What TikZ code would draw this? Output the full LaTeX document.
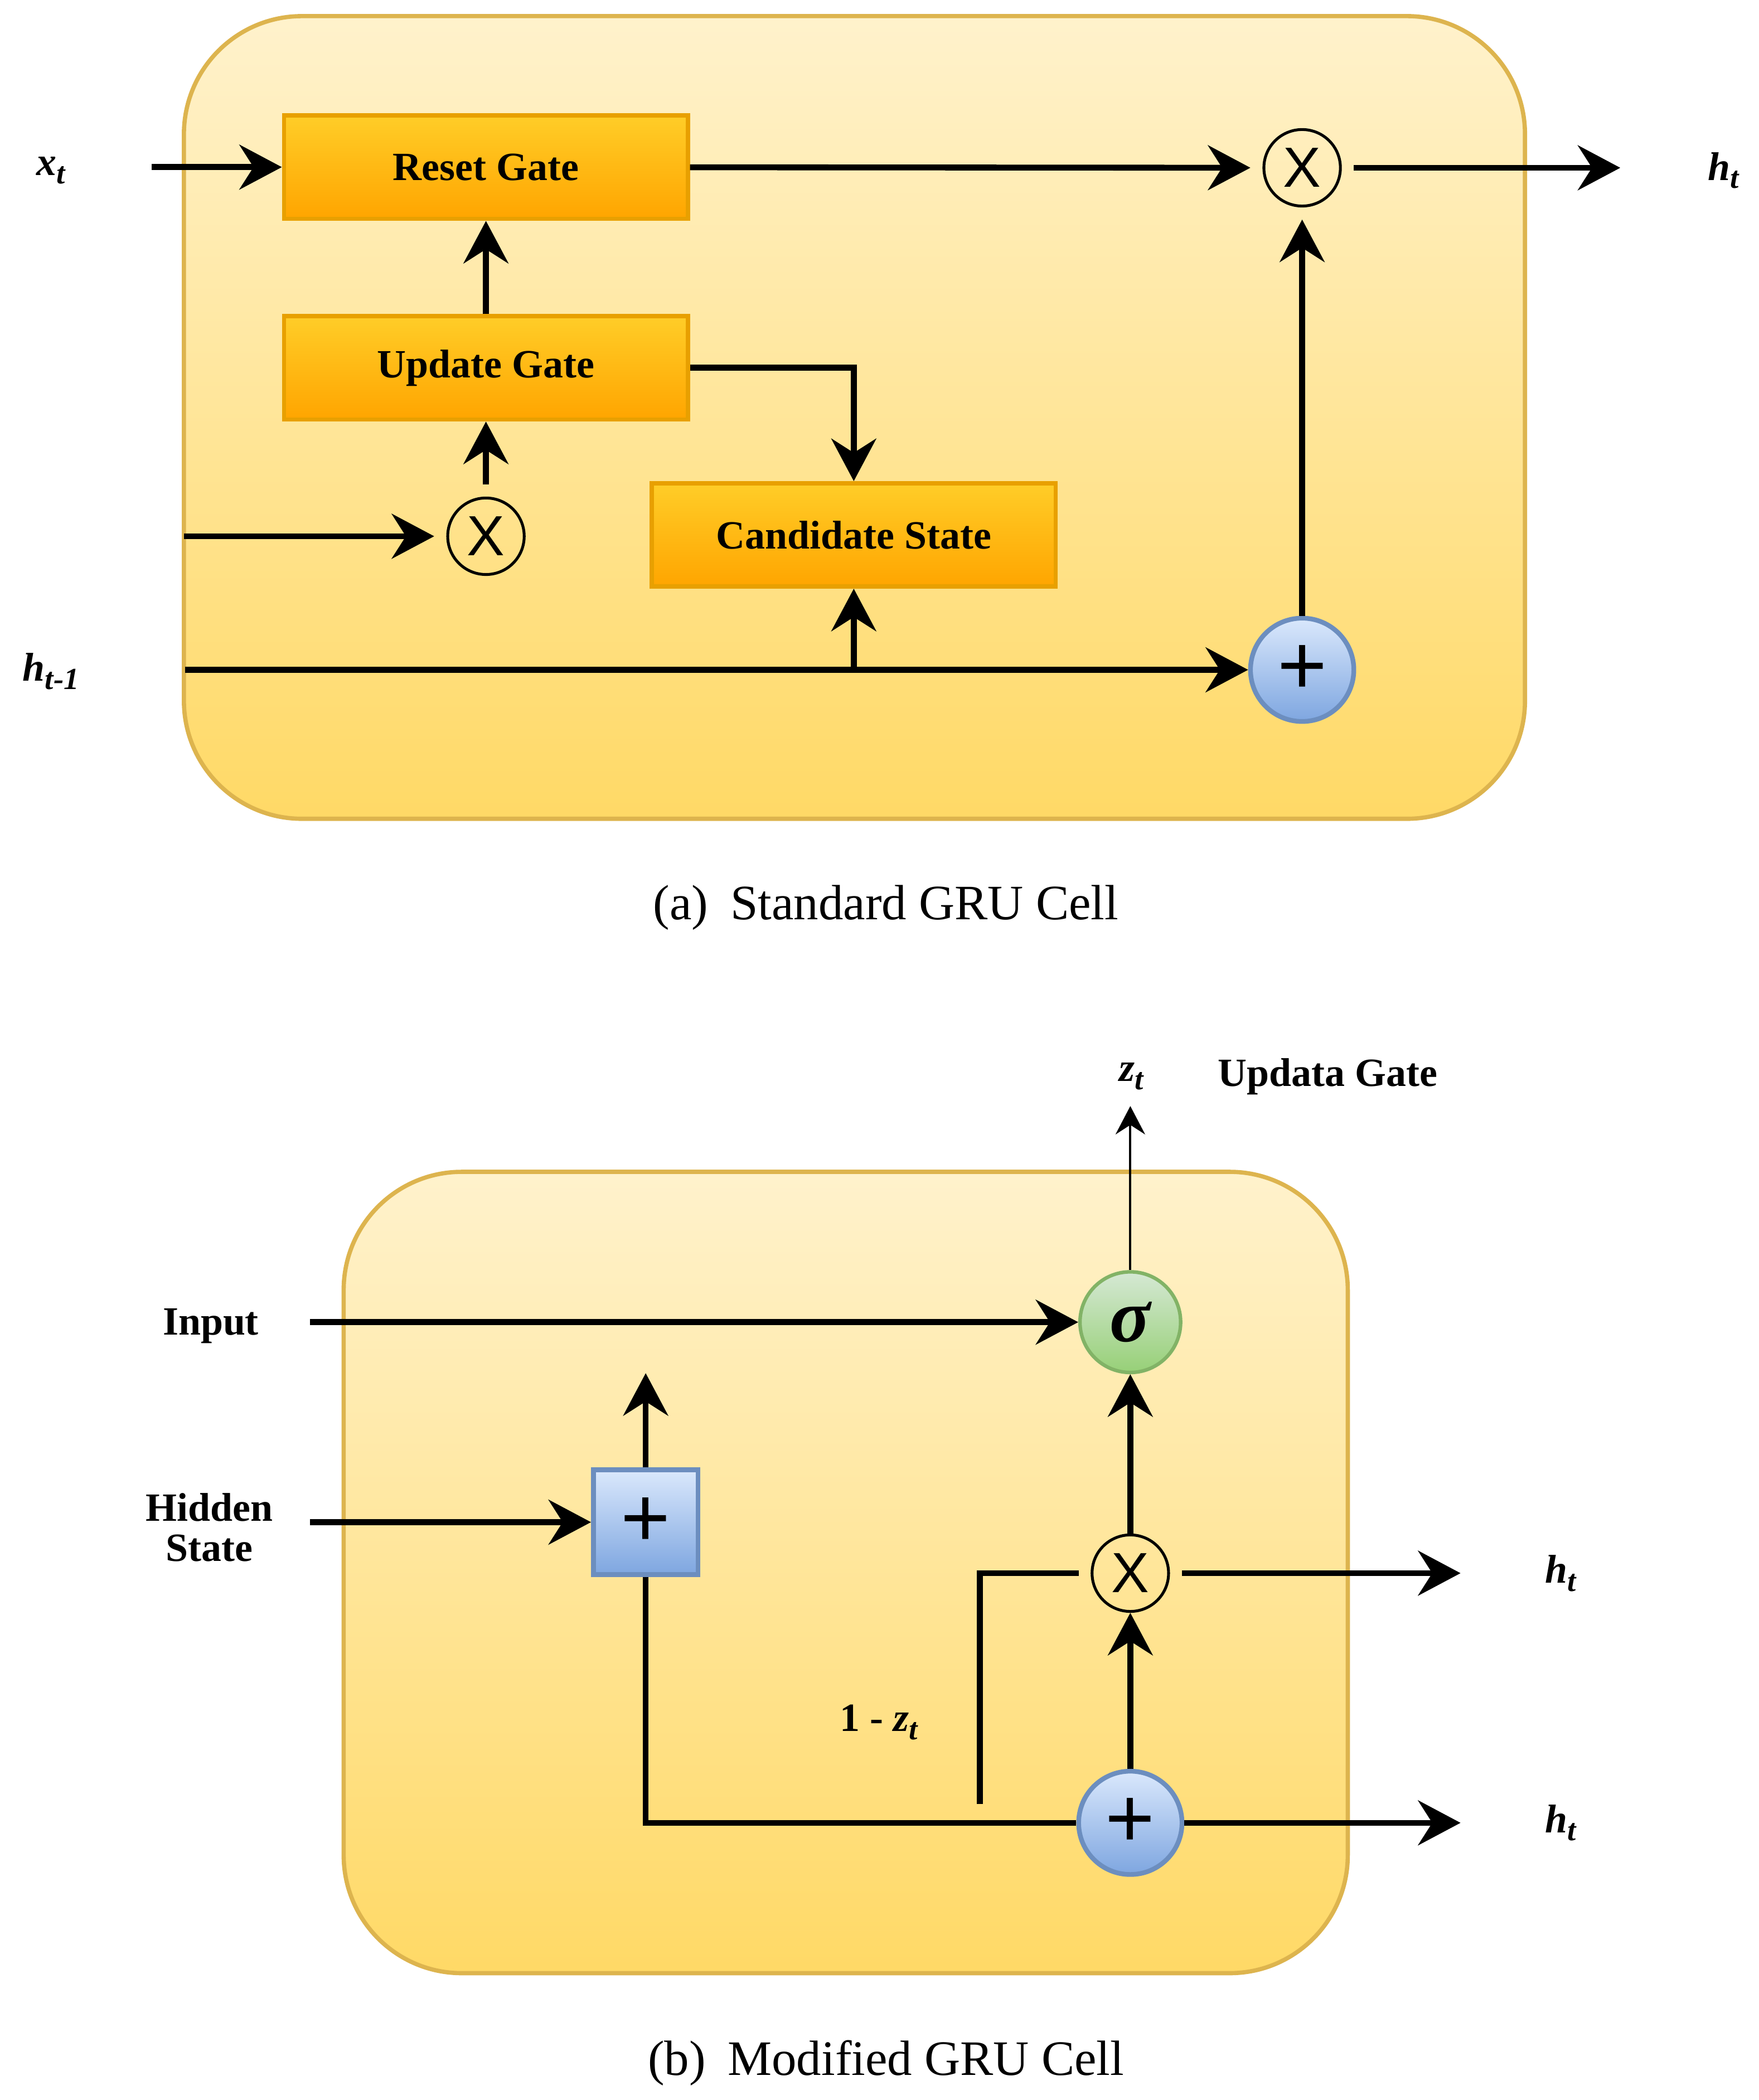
\documentclass[tikz,border=0pt]{standalone}
\usepackage{fontspec}
\setmainfont{Liberation Serif}
\newfontfamily\sansx{Liberation Sans}
\usetikzlibrary{arrows.meta}
\definecolor{cellTop}{HTML}{FFF2CC}
\definecolor{cellBot}{HTML}{FFD966}
\definecolor{cellLine}{HTML}{DDB44E}
\definecolor{gateTop}{HTML}{FFCD28}
\definecolor{gateBot}{HTML}{FFA500}
\definecolor{gateLine}{HTML}{E8A000}
\definecolor{blueTop}{HTML}{DAE8FC}
\definecolor{blueBot}{HTML}{7EA6E0}
\definecolor{blueLine}{HTML}{6C8EBF}
\definecolor{greenTop}{HTML}{D5E8D4}
\definecolor{greenBot}{HTML}{97D077}
\definecolor{greenLine}{HTML}{82B366}
\newcommand{\lbl}{\fontsize{17}{20}\selectfont\bfseries}
\newcommand{\sub}[2]{\textbf{\textit{#1}\raisebox{-0.45ex}{\fontsize{13}{13}\selectfont\textit{#2}}}}
\begin{document}
\begin{tikzpicture}[x=0.02cm,y=-0.02cm,
    cell/.style={draw=cellLine,line width=1.8pt,top color=cellTop,bottom color=cellBot,rounded corners=1.76cm},
    gate/.style={draw=gateLine,line width=1.8pt,top color=gateTop,bottom color=gateBot,minimum width=6.02cm,minimum height=1.54cm,inner sep=0pt,font=\lbl},
    mult/.style={circle,draw,line width=1.2pt,minimum size=1.14cm,inner sep=0pt,font=\sansx\fontsize{24}{24}\selectfont},
    addc/.style={circle,draw=blueLine,line width=2pt,top color=blueTop,bottom color=blueBot,minimum size=1.54cm,inner sep=0pt,font=\sansx\fontsize{36}{36}\selectfont},
    addsq/.style={draw=blueLine,line width=2pt,top color=blueTop,bottom color=blueBot,minimum size=1.56cm,inner sep=0pt,font=\sansx\fontsize{36}{36}\selectfont},
    sig/.style={circle,draw=greenLine,line width=1.5pt,top color=greenTop,bottom color=greenBot,minimum size=1.5cm,inner sep=0pt,font=\fontsize{32}{32}\selectfont\bfseries\itshape},
    lab/.style={font=\lbl,inner sep=1pt},
    capt/.style={font=\fontsize{21}{24}\selectfont},
    arr/.style={line width=2.5pt,-{Stealth[length=18pt,width=19pt,inset=6pt]}},
    thinarr/.style={line width=1pt,-{Stealth[length=12pt,width=12.5pt,inset=4pt]}},
    wire/.style={line width=2.5pt},
    gap/.style={shorten >=0.18cm},
    gapin/.style={shorten <=0.18cm}]
    \useasboundingbox (0,0) rectangle (1310,1564.5);
    \draw[cell] (137,12) rectangle (1136,610);
    \draw[cell] (256,873) rectangle (1004,1470);
    \node[lab] (xt) at (38,127) {\sub{x}{t}};
    \node[lab] (ht) at (1284,127) {\sub{h}{t}};
    \node[lab] (hp) at (38,500) {\sub{h}{t-1}};
    \node[gate] (r) at (362,124.5) {Reset Gate};
    \node[gate] (u) at (362,274) {Update Gate};
    \node[gate] (c) at (636,398.5) {Candidate State};
    \node[mult] (m) at (970,125) {X};
    \node[mult] (n) at (362,399.5) {X};
    \node[addc] (p) at (970,499) {+};
    \coordinate (xin) at (113,124.5);
    \coordinate (hout) at (1207,125);
    \coordinate (zin) at (137,399.5);
    \coordinate (hin) at (138,499);
    \coordinate (br) at (636,499);
    \draw[arr] (xin) -- (r);
    \draw[arr,gap] (r) -- (m);
    \draw[arr,gapin] (m) -- (hout);
    \draw[arr] (u) -- (r);
    \draw[arr,gapin] (n) -- (u);
    \draw[arr,gap] (zin) -- (n);
    \draw[arr] (u.east) -| (c.north);
    \draw[arr] (hin) -- (p);
    \draw[arr] (br) -- (c);
    \draw[arr,gap] (p) -- (m);
    \node[capt] (ca) at (660,676) {(a)\hspace{0.45em}Standard GRU Cell};
    \node[lab] (in) at (157,988) {Input};
    \node[lab,align=center] (hs) at (156,1138) {Hidden\\[-3pt]State};
    \node[lab] (zt) at (843,802) {\sub{z}{t}};
    \node[lab] (ug) at (989,802) {Updata Gate};
    \node[lab] (h1) at (1163,1172) {\sub{h}{t}};
    \node[lab] (h2) at (1163,1358) {\sub{h}{t}};
    \node[lab] (oz) at (655,1283) {1 - \sub{z}{t}};
    \node[sig] (s) at (842,985) {σ};
    \node[addsq] (q) at (481,1134) {+};
    \node[mult] (x) at (842,1172) {X};
    \node[addc] (a) at (842,1358) {+};
    \coordinate (inp) at (231,985);
    \coordinate (hid) at (231,1134);
    \coordinate (qout) at (481,1023);
    \coordinate (ztop) at (842,824);
    \coordinate (k) at (730,1344);
    \coordinate (o1) at (1088,1172);
    \coordinate (o2) at (1088,1358);
    \draw[arr] (inp) -- (s);
    \draw[arr] (hid) -- (q);
    \draw[arr] (q) -- (qout);
    \draw[wire] (q.south) |- (a.west);
    \draw[wire,gap] (k) |- (x.west);
    \draw[arr] (a) -- (x);
    \draw[arr] (x) -- (s);
    \draw[thinarr] (s) -- (ztop);
    \draw[arr,gapin] (x) -- (o1);
    \draw[arr] (a) -- (o2);
    \node[capt] (cb) at (660,1537) {(b)\hspace{0.45em}Modified GRU Cell};
\end{tikzpicture}
\end{document}
